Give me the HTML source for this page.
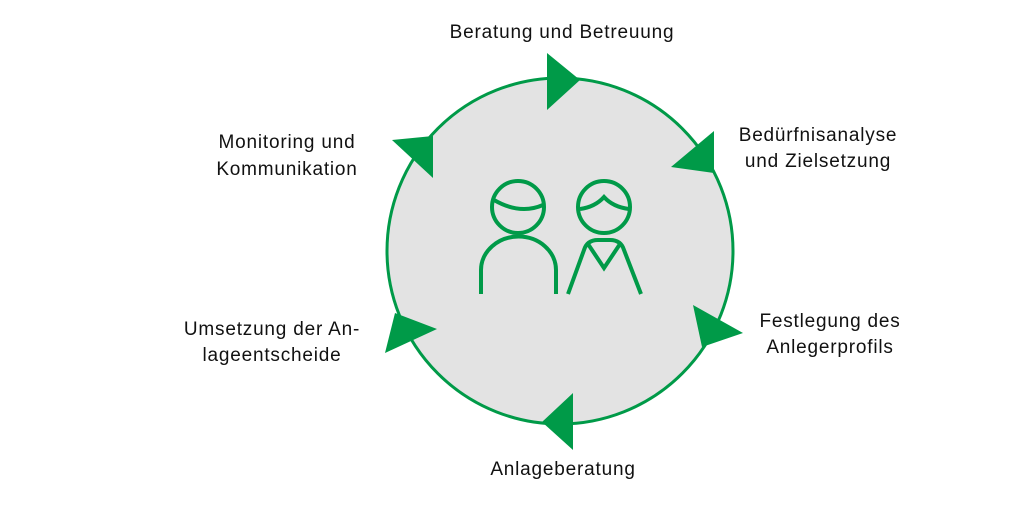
<!DOCTYPE html>
<html><head><meta charset="utf-8"><style>
html,body{margin:0;padding:0;background:#fff;}
body{width:1024px;height:500px;overflow:hidden;}
text{font-family:"Liberation Sans",sans-serif;font-size:19px;letter-spacing:0.8px;fill:#111;}
</style></head><body>
<svg width="1024" height="500" viewBox="0 0 1024 500" xmlns="http://www.w3.org/2000/svg">
<circle cx="560" cy="251" r="173" fill="#e3e3e3" stroke="#009a48" stroke-width="3"/>
<g fill="#009a48">
<polygon points="547,53 547,110 580,80"/>
<polygon points="714,131 714,173 671,167"/>
<polygon points="693,305 702,347 743,333"/>
<polygon points="573,393 573,450 542,422"/>
<polygon points="395,313 385,353 437,329"/>
<polygon points="392,140 433,136 433,178"/>
</g>
<g fill="none" stroke="#009a48" stroke-width="4">
<circle cx="518" cy="207" r="26"/>
<path d="M494,200 Q520,215 543,205"/>
<path d="M481,294 V270 A37,33 0 0 1 556,270 V294"/>
<circle cx="604" cy="207" r="26"/>
<path d="M580,209 Q595,207 604,197 Q613,207 629,209"/>
<path d="M568,294 L584,250 Q587,240 598,240 L610,240 Q621,240 624,250 L641,294"/>
<path d="M588,244 L604,268 L620,244"/>
</g>
<text x="562" y="38" text-anchor="middle">Beratung und Betreuung</text>
<text x="818" y="141" text-anchor="middle">Bedürfnisanalyse</text>
<text x="818" y="167" text-anchor="middle">und Zielsetzung</text>
<text x="830" y="327" text-anchor="middle">Festlegung des</text>
<text x="830" y="353" text-anchor="middle">Anlegerprofils</text>
<text x="563" y="475" text-anchor="middle">Anlageberatung</text>
<text x="272" y="335" text-anchor="middle">Umsetzung der An-</text>
<text x="272" y="361" text-anchor="middle">lageentscheide</text>
<text x="287" y="148" text-anchor="middle">Monitoring und</text>
<text x="287" y="175" text-anchor="middle">Kommunikation</text>
</svg>
</body></html>
